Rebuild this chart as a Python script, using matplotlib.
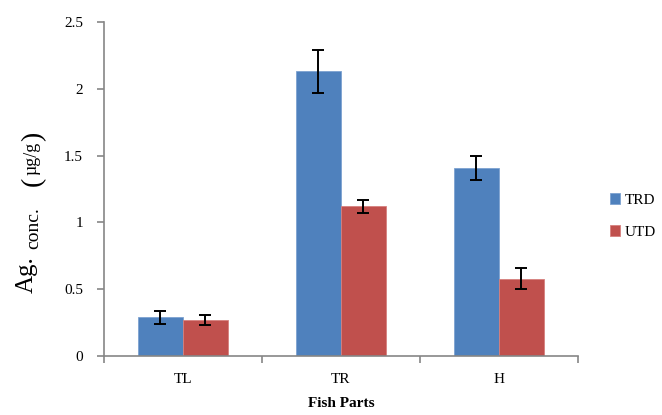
import numpy as np
import matplotlib
matplotlib.use('Agg')
import matplotlib.pyplot as plt

# data
parts = ['TL', 'TR', 'H']
series = ['TRD', 'UTD']
trd = [0.29, 2.13, 1.41]
trd_err = [0.05, 0.16, 0.09]
utd = [0.27, 1.12, 0.58]
utd_err = [0.04, 0.05, 0.08]
yticks = [0, 0.5, 1, 1.5, 2, 2.5]

plt.rcParams['font.family'] = ['Liberation Serif', 'DejaVu Serif']

W, H = 662, 415
fig = plt.figure(figsize=(W / 100, H / 100), dpi=100)
ax = fig.add_axes([0.157, 0.142, 0.716, 0.805])

x = np.arange(len(parts))
w = 0.285
ekw = dict(ecolor='black', elinewidth=1.4, capsize=4.5, capthick=1.4)
ax.bar(x - w/2, trd, w, yerr=trd_err, color='#4F81BD', edgecolor='#7DA2D0',
       linewidth=0.6, label=series[0], error_kw=ekw)
ax.bar(x + w/2, utd, w, yerr=utd_err, color='#C0504D', edgecolor='#D6807E',
       linewidth=0.6, label=series[1], error_kw=ekw)

ax.set_xlim(-0.5, len(parts) - 0.5)
ax.set_ylim(0, 2.5)
ax.set_yticks(yticks)
ax.set_yticklabels([('%g' % v) for v in yticks], fontsize=11)
ax.set_xticks(x)
ax.set_xticklabels(parts, fontsize=11)
ax.tick_params(axis='x', length=0, pad=12)
ax.set_xticks(np.arange(len(parts) + 1) - 0.5, minor=True)
ax.tick_params(axis='x', which='minor', length=5, color='#868686', width=1.2)
ax.tick_params(axis='y', length=5, color='#868686', width=1.2, pad=10)

for s in ['top', 'right']:
    ax.spines[s].set_visible(False)
for s in ['left', 'bottom']:
    ax.spines[s].set_color('#868686')
    ax.spines[s].set_linewidth(1.2)

ax.set_xlabel('Fish Parts', fontsize=11, fontweight='bold', labelpad=8)

# y label built from pieces: "Ag." big, "conc." small, "(µg/g)"
def ypiece(px, py, s, size):
    fig.text(px / W, 1 - py / H, s, rotation=90, rotation_mode='anchor',
             fontsize=size, ha='left', va='baseline')

ypiece(33, 293, 'Ag.', 18)
ypiece(38, 249, 'conc.', 14)
ypiece(40, 186, '(', 20)
ypiece(36, 175, 'µg/g', 13)
ypiece(40, 141, ')', 20)

fig.legend(loc='center left', bbox_to_anchor=(0.9, 0.48), frameon=False,
           fontsize=11, handlelength=0.7, handleheight=0.7,
           handletextpad=0.3, labelspacing=1.2)

fig.savefig('out.png', dpi=100)
